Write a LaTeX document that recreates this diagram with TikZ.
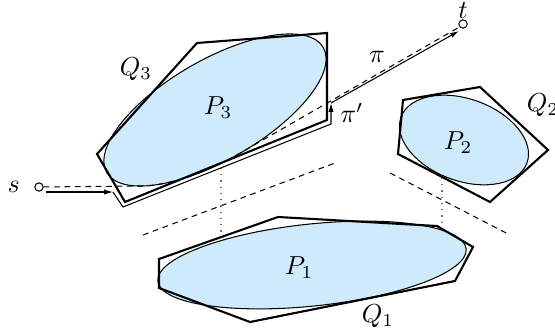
\documentclass[tikz,border=0pt]{standalone}
\usepackage{tikz}
\usetikzlibrary{arrows.meta}
\definecolor{regionblue}{RGB}{206,234,251}
\definecolor{gapgray}{RGB}{110,110,110}
\tikzset{
  region/.style={draw=black, line width=0.4pt, fill=regionblue},
  hull/.style={draw=black, line width=0.8pt, line join=miter},
  vertex/.style={circle, draw, fill=white, inner sep=0pt,
    minimum size=3.2pt, line width=0.4pt},
  pathpi/.style={line width=0.4pt, dash pattern=on 2.2pt off 1.8pt},
  pathpiprime/.style={line width=0.4pt, -{Latex[length=3.4pt, width=2pt]}},
  sepline/.style={line width=0.4pt, dash pattern=on 2.2pt off 1.8pt},
  gapline/.style={line width=0.4pt, dotted, gapgray},
}
\begin{document}
\begin{tikzpicture}[x=0.0135cm, y=-0.0135cm]
  \useasboundingbox (0,0) rectangle (555,335);

  %% Separating lines
  \draw[sepline] (143,235) -- (335,163);
  \draw[sepline] (390,173) -- (510,235);

  %% Obstacles P_i with their hulls Q_i
  \draw[region, rotate around={6:(312,265)}] (312,265)
    ellipse [x radius=155, y radius=41];
  \draw[hull] (159,259) -- (278,217) -- (437,226) -- (473,247)
    -- (455,281) -- (250,322) -- (159,288) -- cycle;

  \draw[region, rotate around={-20:(464,140)}] (464,140)
    ellipse [x radius=67, y radius=41];
  \draw[hull] (403,100) -- (480,87) -- (548,150) -- (490,202)
    -- (398,154) -- cycle;

  \draw[region, rotate around={30:(215,110)}] (215,110)
    ellipse [x radius=125, y radius=50];
  \draw[hull] (97,154) -- (197,43) -- (327,33) -- (327,120)
    -- (125,202) -- cycle;

  %% Gaps between hulls
  \draw[gapline] (221,168) -- (221,235);
  \draw[gapline] (442,178) -- (442,224);

  %% Terminals
  \node[vertex, label={[label distance=2pt]left:$s$}] (s) at (39,187) {};
  \node[vertex, label={[label distance=-3.2pt]above:$t$}] (t) at (463,24) {};

  %% Path pi (around P_3)
  \draw[pathpi] (s) -- (140,186)
    {[rotate=30] arc[start angle=145.3, end angle=89.2,
      x radius=125, y radius=50]} -- (t);

  %% Path pi' (around Q_3)
  \coordinate (sout) at (46,192);
  \coordinate (bend1) at (113,192);
  \coordinate (bend2) at (123,207);
  \coordinate (bend3) at (331,124);
  \coordinate (bend4) at (331,103);
  \coordinate (tin) at (459,31);
  \draw[pathpiprime] (sout) -- (bend1);
  \draw[pathpiprime] (bend1) -- (bend2) -- (bend3) -- (bend4);
  \draw[pathpiprime] (bend4) -- (tin);

  %% Labels
  \node (Q3) at (136,69)  {$Q_3$};
  \node (P3) at (218,108) {$P_3$};
  \node (Q2) at (543,105) {$Q_2$};
  \node (P2) at (458,143) {$P_2$};
  \node (P1) at (299,268) {$P_1$};
  \node (Q1) at (378,316) {$Q_1$};
  \node (pi) at (377,57)  {$\pi$};
  \node (piprime) at (352,113) {$\pi'$};

\end{tikzpicture}
\end{document}
